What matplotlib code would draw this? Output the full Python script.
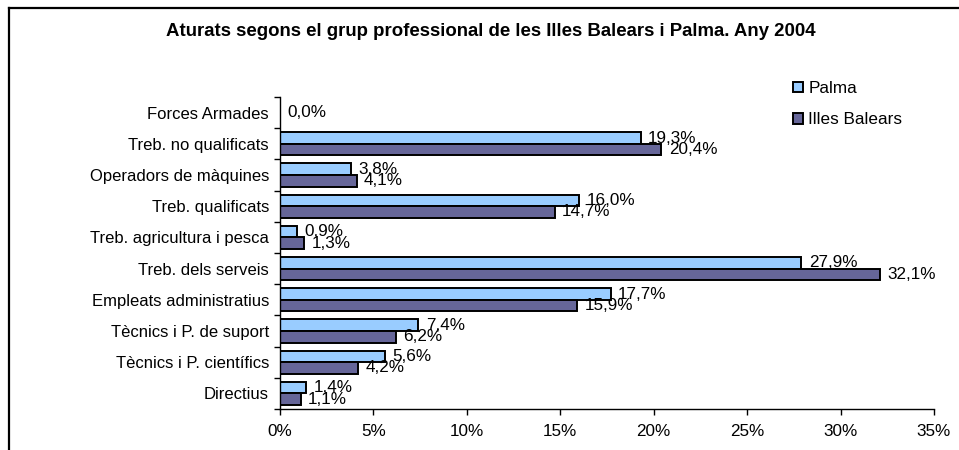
import numpy as np
import matplotlib
matplotlib.use("Agg")
import matplotlib.pyplot as plt
from matplotlib.lines import Line2D
from matplotlib.patches import Patch

plt.rcParams['font.family'] = ['Liberation Sans', 'DejaVu Sans']

categories = ["Directius", "Tècnics i P. científics", "Tècnics i P. de suport",
              "Empleats administratius", "Treb. dels serveis",
              "Treb. agricultura i pesca", "Treb. qualificats",
              "Operadors de màquines", "Treb. no qualificats", "Forces Armades"]
palma = [1.4, 5.6, 7.4, 17.7, 27.9, 0.9, 16.0, 3.8, 19.3, 0.0]
balears = [1.1, 4.2, 6.2, 15.9, 32.1, 1.3, 14.7, 4.1, 20.4, 0.0]
xticks = [0, 5, 10, 15, 20, 25, 30, 35]

col_palma = "#99CCFF"
col_bal = "#666699"
fs = 12.3

fig = plt.figure(figsize=(9.59, 4.5), dpi=100)
ax = fig.add_axes([280 / 959, 1 - 409 / 450, 654 / 959, 312 / 450])

y = np.arange(len(categories))
h = 0.37
ax.barh(y + h / 2, palma, height=h, color=col_palma, edgecolor="black", linewidth=1.4)
ax.barh(y - h / 2, balears, height=h, color=col_bal, edgecolor="black", linewidth=1.4)

def fmt(v):
    return f"{v:.1f}%".replace(".", ",")

off = 0.4
for yi, p, b in zip(y, palma, balears):
    if p == 0 and b == 0:
        ax.text(off, yi, fmt(p), ha="left", va="center", fontsize=fs)
        continue
    ax.text(p + off, yi + h / 2, fmt(p), ha="left", va="center", fontsize=fs)
    ax.text(b + off, yi - h / 2, fmt(b), ha="left", va="center", fontsize=fs)

ax.set_xlim(0, 35)
ax.set_ylim(-0.5, len(categories) - 0.5)
ax.set_xticks(xticks)
ax.set_xticklabels([f"{t}%" for t in xticks], fontsize=fs)
ax.set_yticks(y)
ax.set_yticklabels(categories, fontsize=12)
ax.set_yticks(np.arange(len(categories) + 1) - 0.5, minor=True)
ax.tick_params(axis="y", which="major", length=0, pad=8)
ax.tick_params(axis="y", which="minor", length=4, direction="out", width=1)
ax.tick_params(axis="x", length=4, direction="out", width=1, pad=7)
for s in ["top", "right"]:
    ax.spines[s].set_visible(False)
for s in ["left", "bottom"]:
    ax.spines[s].set_linewidth(1)

fig.text(491 / 959, 1 - 32 / 450,
         "Aturats segons el grup professional de les Illes Balears i Palma. Any 2004",
         ha="center", va="center", fontsize=13.4, fontweight="bold")

handles = [Patch(facecolor=col_palma, edgecolor="black", linewidth=1.4),
           Patch(facecolor=col_bal, edgecolor="black", linewidth=1.4)]
fig.legend(handles, ["Palma", "Illes Balears"], loc="upper left",
           bbox_to_anchor=(793 / 959, 1 - 81 / 450), frameon=False,
           fontsize=12.3, handlelength=0.6, handleheight=0.6,
           handletextpad=0.3, labelspacing=0.95, borderpad=0, borderaxespad=0)

# chart-area border (left and top edges visible)
fig.add_artist(Line2D([9 / 959, 9 / 959], [0, 1 - 8 / 450], color="black", lw=1.6))
fig.add_artist(Line2D([9 / 959, 1], [1 - 8 / 450, 1 - 8 / 450], color="black", lw=1.6))

fig.savefig("out.png", dpi=100)
